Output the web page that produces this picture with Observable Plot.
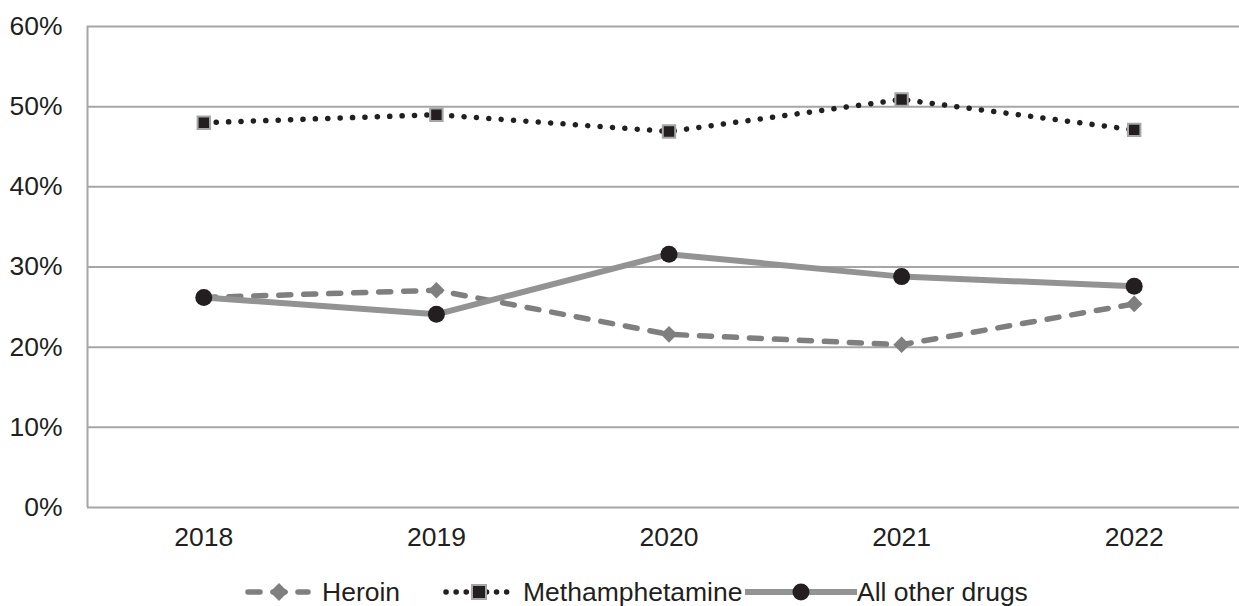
<!DOCTYPE html>
<html>
<head>
<meta charset="utf-8">
<script src="https://cdn.jsdelivr.net/npm/d3@7"></script>
<script src="https://cdn.jsdelivr.net/npm/@observablehq/plot@0.6"></script>
<style>
  html, body { margin: 0; padding: 0; background: #fff; }
  body { width: 1239px; height: 606px; position: relative; overflow: hidden; font-family: "Liberation Sans", Arial, sans-serif; }
  #chart { position: absolute; left: 0; top: 0; }
  #legend { position: absolute; left: 0; top: 570px; width: 1239px; height: 44px; }
  .item { position: absolute; top: 0; height: 44px; display: flex; align-items: center; font-size: 26.5px; color: #231f20; }
  .item svg { display: block; }
</style>
</head>
<body>
<div id="chart"></div>
<div id="legend"></div>
<script>
const years = [2018, 2019, 2020, 2021, 2022];
const heroin = [0.262, 0.271, 0.216, 0.203, 0.254];
const meth = [0.480, 0.490, 0.469, 0.509, 0.471];
const other = [0.262, 0.241, 0.316, 0.288, 0.276];
const seriesNames = ["Heroin", "Methamphetamine", "All other drugs"];
const yTicks = [0, 0.1, 0.2, 0.3, 0.4, 0.5, 0.6];

const rows = (vals, name) => years.map((yr, i) => ({year: yr, value: vals[i], series: name}));
const hData = rows(heroin, seriesNames[0]);
const mData = rows(meth, seriesNames[1]);
const oData = rows(other, seriesNames[2]);

const ink = "#231f20";
const grid = "#a6a6a6";
const heroinColor = "#7f7f7f";
const otherColor = "#939393";

const chart = Plot.plot({
  width: 1239,
  height: 560,
  marginLeft: 87,
  marginRight: 0,
  marginTop: 26,
  marginBottom: 53,
  style: {fontFamily: "'Liberation Sans', Arial, sans-serif", fontSize: "26.5px", color: ink, background: "#fff"},
  x: {type: "linear", domain: [2017.5, 2022.5], range: [87, 1250], ticks: years, tickFormat: d3.format("d"), tickSize: 0, tickPadding: 20, label: null},
  y: {domain: [0, 0.6], ticks: yTicks, tickFormat: d3.format(".0%"), tickSize: 0, tickPadding: 25, label: null},
  marks: [
    Plot.gridY(yTicks, {stroke: grid, strokeOpacity: 1, strokeWidth: 2}),
    Plot.ruleX([2017.5], {y1: 0, y2: 0.6, stroke: grid, strokeWidth: 2}),
    Plot.axisX({ticks: years, tickFormat: d3.format("d"), tickSize: 0, tickPadding: 20, fill: ink}),
    Plot.axisY({ticks: yTicks, tickFormat: d3.format(".0%"), tickSize: 0, tickPadding: 25, fill: ink}),
    // Methamphetamine
    Plot.line(mData, {x: "year", y: "value", stroke: ink, strokeWidth: 5.5, strokeDasharray: "0.1,12.3", strokeLinecap: "round"}),
    Plot.dot(mData, {x: "year", y: "value", symbol: "square", r: 7, fill: ink, stroke: "#a6a6a6", strokeWidth: 2}),
    // Heroin
    Plot.line(hData, {x: "year", y: "value", stroke: heroinColor, strokeWidth: 5.5, strokeDasharray: "12,13", strokeLinecap: "round"}),
    Plot.dot(hData, {x: "year", y: "value", symbol: "diamond2", r: 7.5, fill: heroinColor, stroke: "none"}),
    // All other drugs
    Plot.line(oData, {x: "year", y: "value", stroke: otherColor, strokeWidth: 6}),
    Plot.dot(oData, {x: "year", y: "value", symbol: "circle", r: 8.5, fill: ink, stroke: "none"})
  ]
});
document.getElementById("chart").appendChild(chart);

// Legend
const legend = document.getElementById("legend");
const ns = "http://www.w3.org/2000/svg";
function swatch(w, draw) {
  const s = document.createElementNS(ns, "svg");
  s.setAttribute("width", w);
  s.setAttribute("height", 44);
  draw(s);
  return s;
}
function el(svg, tag, attrs) {
  const e = document.createElementNS(ns, tag);
  for (const k in attrs) e.setAttribute(k, attrs[k]);
  svg.appendChild(e);
  return e;
}
const cy = 22;
const items = [
  {left: 245, w: 67, name: seriesNames[0], draw: s => {
    el(s, "line", {x1: 3, x2: 63, y1: cy, y2: cy, stroke: heroinColor, "stroke-width": 5.5, "stroke-dasharray": "12,13", "stroke-linecap": "round"});
    el(s, "path", {d: `M34,${cy-9}L43,${cy}L34,${cy+9}L25,${cy}Z`, fill: heroinColor});
  }},
  {left: 443, w: 70, name: seriesNames[1], draw: s => {
    el(s, "line", {x1: 3, x2: 67, y1: cy, y2: cy, stroke: ink, "stroke-width": 5.5, "stroke-dasharray": "0.1,10", "stroke-linecap": "round"});
    el(s, "rect", {x: 28, y: cy - 8, width: 16, height: 16, fill: "#fff", stroke: "none"});
    el(s, "rect", {x: 29, y: cy - 7, width: 14, height: 14, fill: ink, stroke: "#a6a6a6", "stroke-width": 2});
  }},
  {left: 745, w: 112, name: seriesNames[2], draw: s => {
    el(s, "line", {x1: 0, x2: 112, y1: cy, y2: cy, stroke: otherColor, "stroke-width": 6});
    el(s, "circle", {cx: 56, cy: cy, r: 8.5, fill: ink});
  }}
];
for (const it of items) {
  const d = document.createElement("div");
  d.className = "item";
  d.style.left = it.left + "px";
  d.appendChild(swatch(it.w, it.draw));
  const t = document.createElement("span");
  t.textContent = it.name;
  t.style.marginLeft = (it.name === seriesNames[2] ? 0 : 10) + "px";
  d.appendChild(t);
  legend.appendChild(d);
}
</script>
</body>
</html>
